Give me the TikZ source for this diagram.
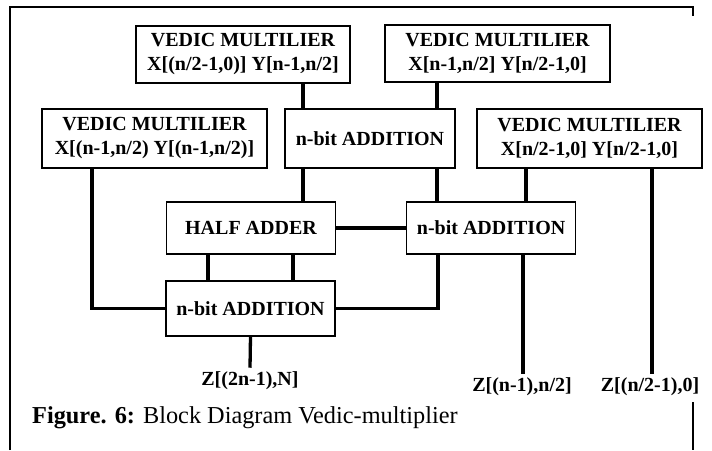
\documentclass[tikz,border=0pt]{standalone}
\usepackage{fontspec}
\setmainfont{Liberation Serif}
\tikzstyle{block}=[rectangle,draw=black,line width=1.1pt,align=center,
inner sep=0pt,font=\fontsize{20}{24}\selectfont\bfseries]
\tikzstyle{mult}=[block,minimum width=225pt,minimum height=59pt]
\tikzstyle{adder}=[block,minimum width=169pt,minimum height=52pt]
\tikzstyle{wire}=[line width=3.3pt]
\tikzstyle{frame}=[line width=1.8pt]
\tikzstyle{result}=[inner sep=4pt,font=\fontsize{20}{22}\selectfont\bfseries]
\usetikzlibrary{positioning}

\begin{document}
\begin{tikzpicture}[x=1pt,y=-1pt]
            \useasboundingbox (0,0) rectangle (712,450);

            % FRAME PART

            \draw[frame] (10,450) -- (10,7) -- (693,7) -- (693,16);
            \draw[frame] (693,402) -- (693,450);

            % MULTIPLIER PART

            \node[mult,minimum width=214pt,minimum height=57pt] (vm1) at (243,54.5) {VEDIC MULTILIER\\X[(n/2-1,0)] Y[n-1,n/2]};
            \node[mult,minimum height=57pt] (vm2) at (497.5,53.5) {VEDIC MULTILIER\\X[n-1,n/2] Y[n/2-1,0]};
            \node[mult] (vm3) at (154.5,138.5) {VEDIC MULTILIER\\X[(n-1,n/2) Y[(n-1,n/2)]};
            \node[adder,minimum width=170pt,minimum height=59pt] (add1) at (370,138.5) {n-bit ADDITION};
            \node[mult] (vm4) at (589.5,138.5) {VEDIC MULTILIER\\X[n/2-1,0] Y[n/2-1,0]};

            % ADDER PART

            \node[adder] (ha) at (251,228) {HALF ADDER};
            \node[adder,right=70pt of ha] (add2) {n-bit ADDITION};
            \node[adder,minimum height=55pt] (add3) at (250.5,308.5) {n-bit ADDITION};

            % OUTPUT PART

            \node[result] (z1) at (250,381) {Z[(2n-1),N]};
            \node[result] (z2) at (522,387) {Z[(n-1),n/2]};
            \node[result] (z3) at (650,387) {Z[(n/2-1),0]};

            % Connections

            \coordinate (xa) at (303,0);
            \coordinate (xb) at (437,0);
            \coordinate (xc) at (526,0);
            \coordinate (xd) at (652,0);
            \coordinate (xe) at (208,0);
            \coordinate (xf) at (293,0);
            \coordinate (xg) at (92,0);
            \coordinate (xh) at (438,0);
            \coordinate (xi) at (523,0);

            \draw[wire] (vm1.south -| xa) -- (add1.north -| xa);
            \draw[wire] (vm2.south -| xb) -- (add1.north -| xb);
            \draw[wire] (add1.south -| xa) -- (ha.north -| xa);
            \draw[wire] (add1.south -| xb) -- (add2.north -| xb);
            \draw[wire] (vm4.south -| xc) -- (add2.north -| xc);
            \draw[wire] (vm4.south -| xd) -- (z3.north -| xd);
            \draw[wire] (ha) -- (add2);
            \draw[wire] (ha.south -| xe) -- (add3.north -| xe);
            \draw[wire] (ha.south -| xf) -- (add3.north -| xf);
            \draw[wire] (vm3.south -| xg) |- (add3.west);
            \draw[wire] (add2.south -| xh) |- (add3.east);
            \draw[wire] (add2.south -| xi) -- (z2.north -| xi);
            \draw[wire] (add3.south) -- (z1.north);

            % Caption

            \node[anchor=base west,inner sep=0pt,font=\fontsize{24.3}{28}\selectfont] (cap) at (32,423) {\textbf{Figure. 6:} Block Diagram Vedic-multiplier};
\end{tikzpicture}
\end{document}
